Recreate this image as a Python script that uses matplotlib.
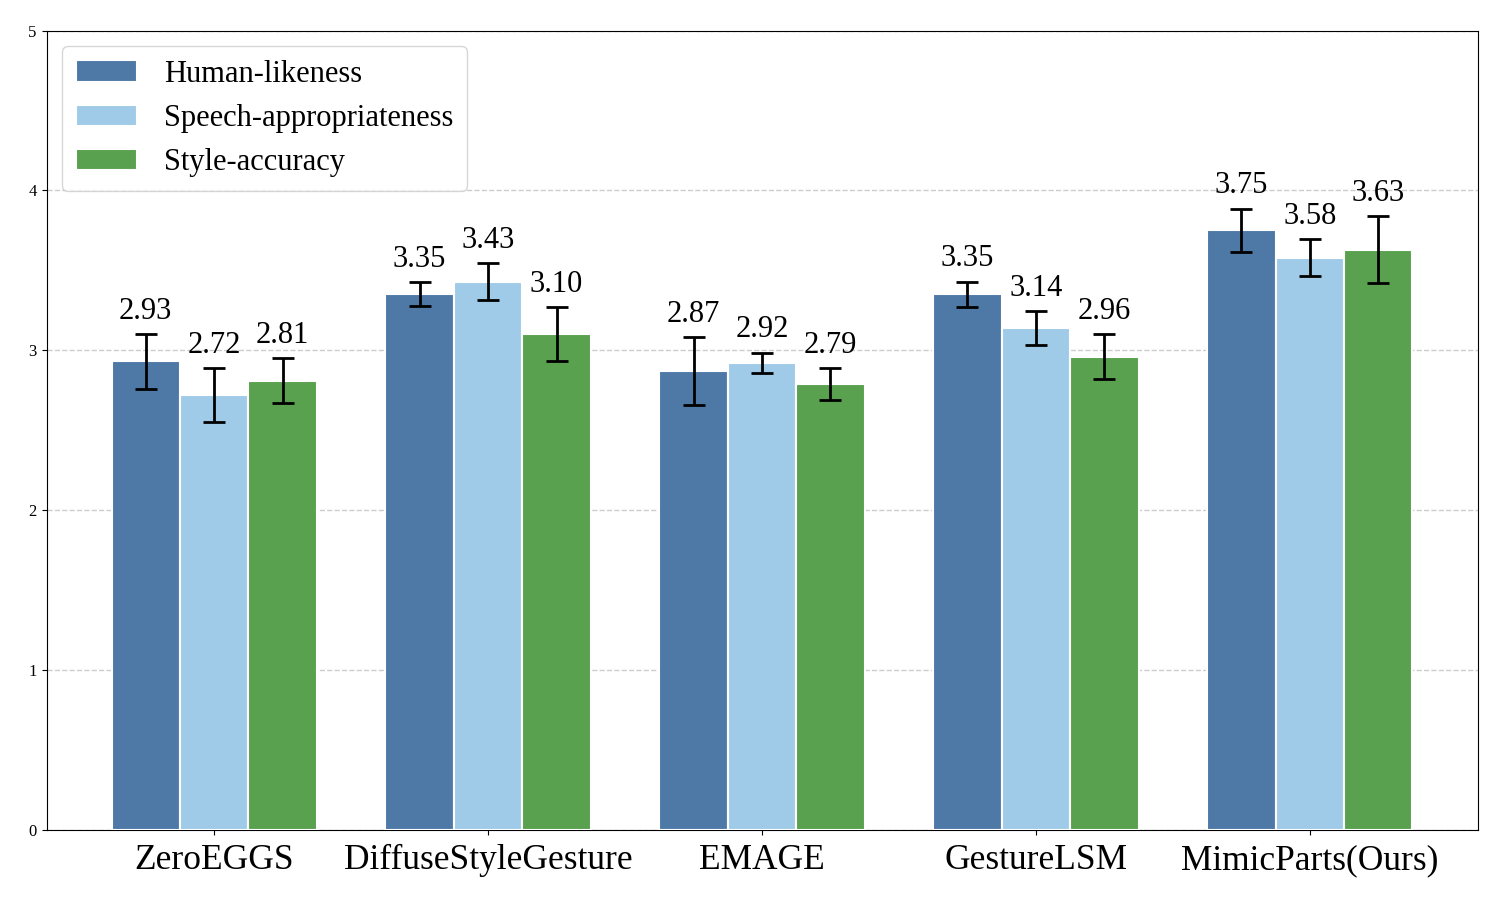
import numpy as np
import matplotlib.pyplot as plt

plt.rcParams['font.family'] = ['Liberation Serif', 'DejaVu Serif']

methods = ["ZeroEGGS", "DiffuseStyleGesture", "EMAGE", "GestureLSM", "MimicParts(Ours)"]
series = ["Human-likeness", "Speech-appropriateness", "Style-accuracy"]

human = [2.93, 3.35, 2.87, 3.35, 3.75]
speech = [2.72, 3.43, 2.92, 3.14, 3.58]
style = [2.81, 3.10, 2.79, 2.96, 3.63]

human_err = [0.17, 0.075, 0.21, 0.08, 0.135]
speech_err = [0.17, 0.115, 0.065, 0.105, 0.115]
style_err = [0.14, 0.17, 0.10, 0.14, 0.21]

colors = ["#4e79a7", "#a0cbe8", "#59a14f"]

fig = plt.figure(figsize=(15, 9), dpi=100)
ax = fig.add_axes([0.031, 0.078, 0.954, 0.888])

x = np.arange(len(methods))
width = 0.25
values = [human, speech, style]
errors = [human_err, speech_err, style_err]

for i, (vals, errs) in enumerate(zip(values, errors)):
    pos = x + (i - 1) * width
    ax.bar(pos, vals, width, yerr=errs, color=colors[i], edgecolor="white",
           linewidth=1.5, label=series[i], capsize=8,
           error_kw={"elinewidth": 2, "capthick": 2}, zorder=3)
    for p, v, e in zip(pos, vals, errs):
        ax.annotate(f"{v:.2f}", (p, v + e), xytext=(0, 6), textcoords="offset points",
                    ha="center", va="bottom", fontsize=22, zorder=4)

ax.set_ylim(0, 5)
ax.set_xticks(x)
ax.set_xticklabels(methods, fontsize=25.5)
ax.tick_params(axis="x", pad=7)
ax.tick_params(axis="y", labelsize=12)
ax.yaxis.grid(True, linestyle="--", color="#cccccc", linewidth=1, zorder=0)
ax.set_axisbelow(True)
ax.legend(loc="upper left", fontsize=22, handlelength=2.0, handleheight=0.7,
          labelspacing=0.5, handletextpad=0.9, borderpad=0.45)

fig.savefig("out.png")
